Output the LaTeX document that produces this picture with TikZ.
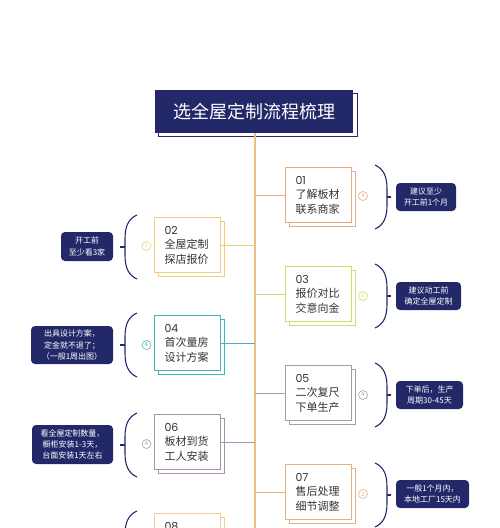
\documentclass[tikz,border=0pt]{standalone}
\usepackage{fontspec}
\setmainfont{Noto Sans CJK SC}
\newfontfamily\numfont{Poppins}
\usetikzlibrary{shadows}
\definecolor{navy}{HTML}{232868}
\definecolor{txt}{HTML}{333333}
\definecolor{trunkc}{HTML}{EBBF86}
\definecolor{cA}{HTML}{EAA887}
\definecolor{cB}{HTML}{F2CD80}
\definecolor{cC}{HTML}{CFDC70}
\definecolor{cD}{HTML}{43B4B8}
\definecolor{cE}{HTML}{A0A0A8}
\definecolor{cF}{HTML}{A891B0}
\definecolor{cG}{HTML}{E0B184}
\definecolor{cH}{HTML}{F0D08E}
\newcommand\myRB[2]{%
  \draw[bracestyle] (375,{#2-32}) .. controls (384,{#2-28}) and (387,{#2-20}) .. (387,{#2-8}) -- (387,{#2+8}) .. controls (387,{#2+20}) and (384,{#2+28}) .. (375,{#2+32});
  \coordinate (#1) at (391,#2);
  \draw[bracestyle] (387,#2) -- (#1);}
\newcommand\myLB[2]{%
  \draw[bracestyle] (137,{#2-32}) .. controls (128,{#2-28}) and (125,{#2-20}) .. (125,{#2-8}) -- (125,{#2+8}) .. controls (125,{#2+20}) and (128,{#2+28}) .. (137,{#2+32});
  \coordinate (#1) at (120,#2);
  \draw[bracestyle] (125,#2) -- (#1);}
\begin{document}
\begin{tikzpicture}[x=1pt,y=-1pt,
  stepbox/.style={draw=#1, fill=white, line width=0.9pt, minimum width=66pt, minimum height=55pt,
    text width=46pt, align=left, inner sep=0pt, font=\fontsize{11}{14.5}\selectfont, text=txt,
    copy shadow={shadow xshift=3.5pt, shadow yshift=-3.5pt}},
  marker/.style={circle, draw=#1, line width=0.6pt, minimum size=9pt, inner sep=0pt,
    font=\fontsize{5.5}{6}\selectfont, text=#1},
  tag/.style={fill=navy, rounded corners=4pt, text=white, align=center, inner sep=0pt,
    font=\fontsize{8}{11.3}\selectfont},
  bracestyle/.style={draw=navy, line width=1.1pt},
  conn/.style={draw=#1, line width=1pt}]
\useasboundingbox (0,0) rectangle (500,528);
\clip (0,0) rectangle (500,528);
\fill[white] (0,0) rectangle (500,528);
% title
\draw[navy, fill=white, line width=0.8pt] (158,93) rectangle (357,136);
\node[fill=navy, minimum width=198pt, minimum height=43pt, inner sep=0pt, text=white,
  font=\fontsize{18}{20}\selectfont] (title) at (254,111.5) {选全屋定制流程梳理};
% trunk
\coordinate (trunkEnd) at (255,540);
\draw[trunkc, line width=1.1pt] (title.south -| trunkEnd) -- (trunkEnd);
% boxes
\node[stepbox=cA] (b1) at (318.5,195) {{\numfont 01}\\了解板材\\联系商家};
\node[stepbox=cB] (b2) at (187.5,245) {{\numfont 02}\\全屋定制\\探店报价};
\node[stepbox=cC] (b3) at (318.5,294) {{\numfont 03}\\报价对比\\交意向金};
\node[stepbox=cD] (b4) at (187.5,343) {{\numfont 04}\\首次量房\\设计方案};
\node[stepbox=cE] (b5) at (318.5,393) {{\numfont 05}\\二次复尺\\下单生产};
\node[stepbox=cF] (b6) at (187.5,442) {{\numfont 06}\\板材到货\\工人安装};
\node[stepbox=cG] (b7) at (318.5,492) {{\numfont 07}\\售后处理\\细节调整};
\node[stepbox=cH] (b8) at (187.5,541) {{\numfont 08}\\\mbox{}\\\mbox{}};
% connectors
\draw[conn=cA] (trunkEnd |- b1.west) -- (b1.west);
\draw[conn=cB] (b2.east) -- (trunkEnd |- b2.east);
\draw[conn=cC] (trunkEnd |- b3.west) -- (b3.west);
\draw[conn=cD] (b4.east) -- (trunkEnd |- b4.east);
\draw[conn=cE] (trunkEnd |- b5.west) -- (b5.west);
\draw[conn=cF] (b6.east) -- (trunkEnd |- b6.east);
\draw[conn=cG] (trunkEnd |- b7.west) -- (b7.west);
% markers
\node[marker=cA] (m1) at (363,196) {4};
\node[marker=cB] (m2) at (146.5,246) {1};
\node[marker=cC] (m3) at (363,296) {6};
\node[marker=cD] (m4) at (146.5,345) {4};
\node[marker=cE] (m5) at (363,395) {4};
\node[marker=cE] (m6) at (146.5,444) {4};
\node[marker=cG] (m7) at (363,494) {2};
% braces
\myRB{t1}{197}
\myLB{t2}{247}
\myRB{t3}{296}
\myLB{t4}{345}
\myRB{t5}{395}
\myLB{t6}{445}
\myRB{t7}{495}
\myLB{t8}{543}
% tags
\node[tag, minimum width=60pt, minimum height=28pt] (g1) at (426,197) {建议至少\\开工前1个月};
\node[tag, minimum width=52pt, minimum height=29pt] (g2) at (87,246.5) {开工前\\至少看3家};
\node[tag, minimum width=65pt, minimum height=28pt] (g3) at (428.5,296) {建议动工前\\确定全屋定制};
\node[tag, minimum width=82pt, minimum height=38pt] (g4) at (72,345) {出具设计方案，\\定金就不退了；\\（一般1周出图）};
\node[tag, minimum width=67pt, minimum height=28pt] (g5) at (429.5,395) {下单后，生产\\周期30-45天};
\node[tag, minimum width=81pt, minimum height=39pt] (g6) at (72.5,444.5) {看全屋定制数量，\\橱柜安装1-3天，\\台面安装1天左右};
\node[tag, minimum width=73pt, minimum height=28pt] (g7) at (432.5,494) {一般1个月内，\\本地工厂15天内};
\end{tikzpicture}
\end{document}
